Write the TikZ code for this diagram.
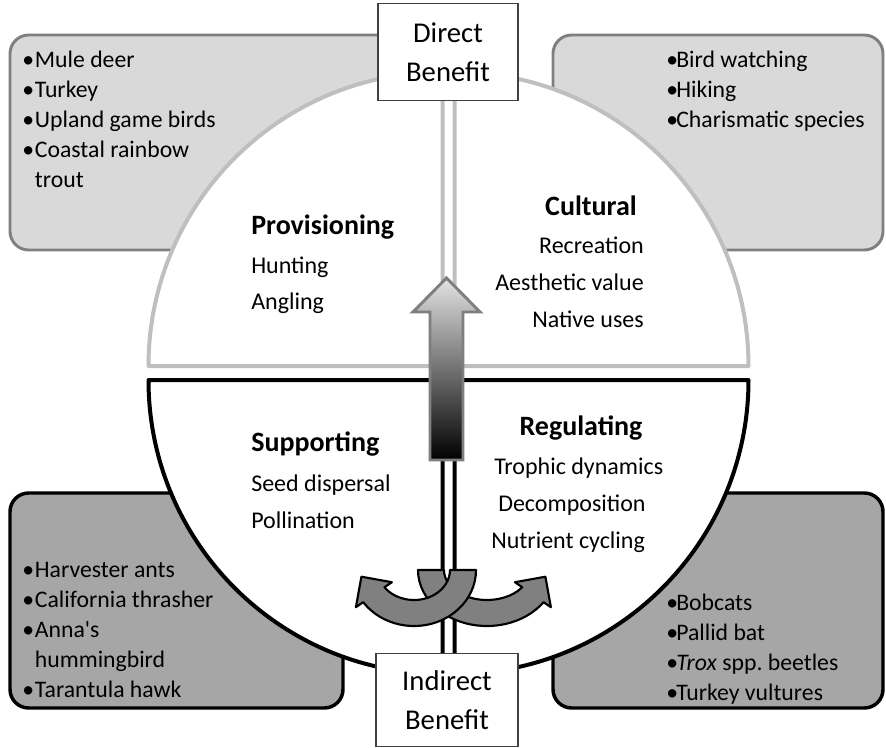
\documentclass[tikz,border=0pt]{standalone}
\usepackage{fontspec}
\setmainfont{Carlito}
\usetikzlibrary{positioning}

\definecolor{boxlight}{HTML}{D9D9D9}
\definecolor{boxdark}{HTML}{A6A6A6}
\definecolor{edgegray}{HTML}{7F7F7F}
\definecolor{ringgray}{HTML}{BFBFBF}
\definecolor{arrowgray}{HTML}{808080}

\newcommand{\bul}{\makebox[9.5pt][l]{\textbullet}}
\newcommand{\bulr}{\makebox[7.5pt][l]{\textbullet}}

\begin{document}
\begin{tikzpicture}[
  x=0.75pt, y=-0.75pt,
  lightbox/.style={
    fill=boxlight, draw=edgegray, line width=2.2pt, rounded corners=14pt
  },
  darkbox/.style={
    fill=boxdark, draw=black, line width=2.6pt, rounded corners=14pt
  },
  upperq/.style={fill=white, draw=ringgray, line width=3pt, line join=round},
  lowerq/.style={fill=white, draw=black, line width=3pt, line join=round},
  benefit/.style={
    rectangle, draw=black!75, fill=white, line width=0.9pt,
    align=center, inner sep=0pt, font=\fontsize{21.5}{29.5}\selectfont
  },
  heading/.style={font=\fontsize{21}{25}\selectfont\bfseries, inner sep=0pt},
  service/.style={font=\fontsize{18}{27}\selectfont, inner sep=0pt},
  species/.style={font=\fontsize{17.8}{22.5}\selectfont, inner sep=0pt, align=left},
  uarrow/.style={fill=arrowgray, draw=black, line width=1.6pt, line join=round},
]

\useasboundingbox (0,0) rectangle (886,747);

%% species boxes (behind the circle)
\draw[lightbox] (10,35) rectangle (400,250);
\draw[lightbox] (553,35) rectangle (883,250);
\draw[darkbox]  (10,493) rectangle (343,708);
\draw[darkbox]  (553,493) rectangle (883,708);

%% four quarters of the circle
\filldraw[upperq] (442.5,366) -- (148.5,366) arc[start angle=180, end angle=270, radius=294] -- cycle;
\filldraw[upperq] (454.5,366) -- (748.5,366) arc[start angle=0, end angle=-90, radius=294] -- cycle;
\filldraw[lowerq] (442.5,380) -- (148.5,380) arc[start angle=180, end angle=90, radius=294] -- cycle;
\filldraw[lowerq] (454.5,380) -- (748.5,380) arc[start angle=0, end angle=90, radius=294] -- cycle;

%% indirect -> direct
\shadedraw[top color=gray!22, bottom color=black, draw=edgegray, line width=2.2pt]
  (446.5,278) -- (480,312) -- (463,312) -- (463,460) -- (430,460) -- (430,312) -- (413,312) -- cycle;

\node[benefit, minimum width=105pt, minimum height=72.75pt] (direct) at (448,52) {Direct\\Benefit};
\node[benefit, minimum width=106.5pt, minimum height=70pt] (indirect) at (447,700) {Indirect\\Benefit};

%% feedback arrows
\filldraw[uarrow] (418,570) arc[start angle=180, end angle=35, x radius=69, y radius=56]
  -- (550.9,607.2) -- (545.4,576.7) -- (514.9,582.2) -- (522.2,587.2)
  arc[start angle=35, end angle=180, x radius=43, y radius=30] -- cycle;
\filldraw[uarrow] (476,570) arc[start angle=0, end angle=145, x radius=62, y radius=56]
  -- (355.9,607.2) -- (361.4,576.7) -- (391.9,582.2) -- (384.5,587.2)
  arc[start angle=145, end angle=0, x radius=36, y radius=30] -- cycle;

%% services
\node[heading, anchor=base west] (prov) at (251,234) {Provisioning};
\node[service, anchor=north west, align=left] (provlist) at (251,257) {Hunting\\Angling};

\node[heading, anchor=base east] (cult) at (637,215) {Cultural};
\node[service, anchor=north east, align=right, font=\fontsize{18}{27.75}\selectfont] (cultlist) at (644,237) {Recreation\\Aesthetic value\\Native uses};

\node[heading, anchor=base west] (supp) at (251,451) {Supporting};
\node[service, anchor=north west, align=left, font=\fontsize{18}{27.75}\selectfont] (supplist) at (251,475) {Seed dispersal\\Pollination};

\node[heading, anchor=base] (reg) at (581,435) {Regulating};
\node[service, anchor=north west, align=left, font=\fontsize{18}{27.4}\selectfont] (reglist) at (491,458)
  {\hspace*{2.25pt}Trophic dynamics\\ \hspace*{5.25pt}Decomposition\\ Nutrient cycling};

%% species lists
\node[species, anchor=north west] (provsp) at (22,51)
  {\bul Mule deer\\ \bul Turkey\\ \bul Upland game birds\\ \bul Coastal rainbow\\ \phantom{\bul}trout};
\node[species, anchor=north west] (cultsp) at (666,51)
  {\bulr Bird watching\\ \bulr Hiking\\ \bulr Charismatic species};
\node[species, anchor=north west] (suppsp) at (22,562)
  {\bul Harvester ants\\ \bul California thrasher\\ \bul Anna\textquotesingle s\\ \phantom{\bul}hummingbird\\ \bul Tarantula hawk};
\node[species, anchor=north west] (regsp) at (666,594)
  {\bulr Bobcats\\ \bulr Pallid bat\\ \bulr \textit{Trox} spp.\ beetles\\ \bulr Turkey vultures};

\end{tikzpicture}
\end{document}
